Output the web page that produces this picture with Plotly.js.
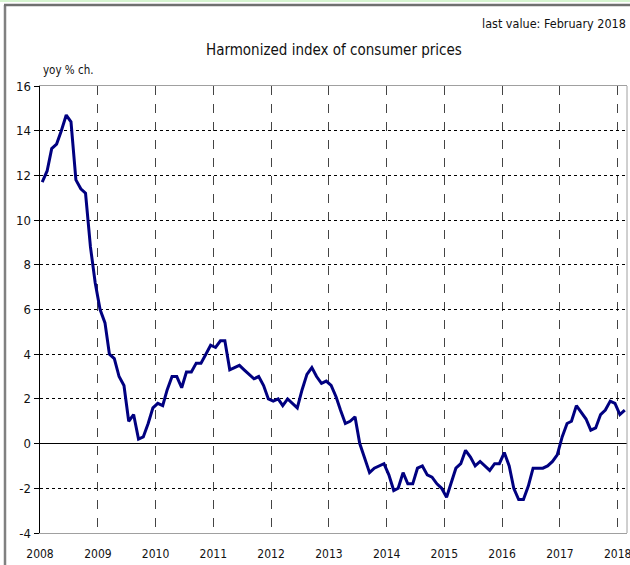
<!DOCTYPE html>
<html>
<head>
<meta charset="utf-8">
<script src="https://cdn.plot.ly/plotly-3.0.1.min.js"></script>
<style>html,body{margin:0;padding:0;background:#fff;}#chart{width:630px;height:565px;}</style>
</head>
<body>
<div id="chart"></div>
<script>
// Harmonized index of consumer prices, yoy % change, monthly
const startYear = 2008;
const v2008 = [11.7, 12.2, 13.2, 13.4, 14.0, 14.7, 14.4, 11.8, 11.4, 11.2, 8.8, 7.2];
const v2009 = [6.0, 5.4, 4.0, 3.8, 3.0, 2.6, 1.0, 1.3, 0.2, 0.3, 0.9, 1.6];
const v2010 = [1.8, 1.7, 2.4, 3.0, 3.0, 2.5, 3.2, 3.2, 3.6, 3.6, 4.0, 4.4];
const v2011 = [4.3, 4.6, 4.6, 3.3, 3.4, 3.5, 3.3, 3.1, 2.9, 3.0, 2.6, 2.0];
const v2012 = [1.9, 2.0, 1.7, 2.0, 1.8, 1.6, 2.4, 3.1, 3.4, 3.0, 2.7, 2.8];
const v2013 = [2.6, 2.1, 1.5, 0.9, 1.0, 1.2, 0.0, -0.7, -1.3, -1.1, -1.0, -0.9];
const v2014 = [-1.4, -2.1, -2.0, -1.3, -1.8, -1.8, -1.1, -1.0, -1.4, -1.5, -1.8, -2.0];
const v2015 = [-2.4, -1.7, -1.1, -0.9, -0.3, -0.6, -1.0, -0.8, -1.0, -1.2, -0.9, -0.9];
const v2016 = [-0.4, -1.0, -2.0, -2.5, -2.5, -1.9, -1.1, -1.1, -1.1, -1.0, -0.8, -0.5];
const v2017 = [0.3, 0.9, 1.0, 1.7, 1.4, 1.1, 0.6, 0.7, 1.3, 1.5, 1.9, 1.8];
const v2018 = [1.3, 1.5];
const yearTicks = ["2008","2009","2010","2011","2012","2013","2014","2015","2016","2017","2018"];
const yTicks = [-4, -2, 0, 2, 4, 6, 8, 10, 12, 14, 16];

const series = [v2008, v2009, v2010, v2011, v2012, v2013, v2014, v2015, v2016, v2017, v2018];
const xs = [], ys = [];
series.forEach((arr, i) => {
  arr.forEach((v, m) => {
    const mm = String(m + 1).padStart(2, "0");
    xs.push((startYear + i) + "-" + mm + "-15");
    ys.push(v);
  });
});

const FONT = "'Liberation Sans Narrow', 'DejaVu Sans Condensed', 'DejaVu Sans', sans-serif";
const W = 630, H = 565, L = 40, R = 3, T = 86, B = 32;
const pw = W - L - R, ph = H - T - B;
const px = x => (x - L) / pw;
const py = y => (H - B - y) / ph;

const trace = {
  x: xs, y: ys, type: "scatter", mode: "lines",
  line: {color: "#000080", width: 3},
  hoverinfo: "skip"
};

const layout = {
  width: W, height: H,
  margin: {l: L, r: R, t: T, b: B, pad: 0},
  paper_bgcolor: "#fff", plot_bgcolor: "#fff",
  showlegend: false,
  font: {family: FONT, color: "#111"},
  xaxis: {
    type: "date",
    range: ["2008-01-01", "2018-03-01"],
    tickvals: yearTicks.map(y => y + "-01-01"),
    ticktext: yearTicks,
    ticks: "outside", ticklen: 10, tickcolor: "rgba(0,0,0,0)",
    ticklabeloverflow: "allow",
    tickfont: {family: FONT, size: 12, color: "#111"},
    showgrid: true, gridcolor: "#444", griddash: "dash", gridwidth: 1,
    showline: true, linecolor: "#a0a0a0", linewidth: 1, mirror: true,
    zeroline: false, fixedrange: true
  },
  yaxis: {
    range: [-4, 16],
    tickvals: yTicks,
    ticktext: yTicks.map(String),
    ticks: "outside", ticklen: 5, tickcolor: "#000", tickwidth: 1,
    tickfont: {family: FONT, size: 13, color: "#111"},
    showgrid: true, gridcolor: "#000", griddash: "dot", gridwidth: 1,
    zeroline: true, zerolinecolor: "#000", zerolinewidth: 1.5,
    showline: true, linecolor: "#000", linewidth: 1.5,
    fixedrange: true
  },
  shapes: [
    {type: "line", xref: "paper", yref: "paper", x0: 1, x1: 1, y0: 0, y1: 1,
     line: {color: "#a0a0a0", width: 1}},
    {type: "line", xref: "paper", yref: "paper", x0: px(5), x1: px(5), y0: py(5), y1: py(566),
     line: {color: "#808080", width: 2.5}},
    {type: "line", xref: "paper", yref: "paper", x0: px(4), x1: px(632), y0: py(5), y1: py(5),
     line: {color: "#707070", width: 2.5}},
    {type: "line", xref: "paper", yref: "paper", x0: px(-2), x1: px(632), y0: py(1), y1: py(1),
     line: {color: "#d6f5d0", width: 2}}
  ],
  annotations: [
    {text: "Harmonized index of consumer prices", xref: "paper", yref: "paper",
     x: 0.5, y: py(50), xanchor: "center", yanchor: "middle", showarrow: false,
     font: {family: FONT, size: 15, color: "#111"}},
    {text: "last value: February 2018", xref: "paper", yref: "paper",
     x: px(628), y: py(24), xanchor: "right", yanchor: "middle", showarrow: false,
     font: {family: FONT, size: 12.5, color: "#111"}},
    {text: "yoy % ch.", xref: "paper", yref: "paper",
     x: px(41), y: py(70), xanchor: "left", yanchor: "middle", showarrow: false,
     font: {family: FONT, size: 11.5, color: "#111"}}
  ]
};

Plotly.newPlot("chart", [trace], layout, {displayModeBar: false, staticPlot: true});
</script>
</body>
</html>
